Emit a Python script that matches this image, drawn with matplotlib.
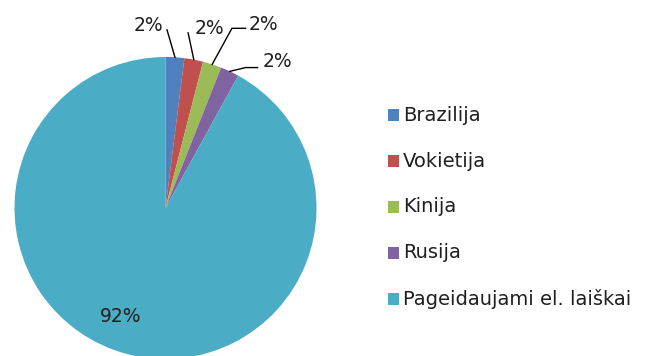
import numpy as np
import matplotlib.pyplot as plt
from matplotlib.patches import Rectangle

plt.rcParams['font.family'] = ['DejaVu Sans']

categories = ['Brazilija', 'Vokietija', 'Kinija', 'Rusija', 'Pageidaujami el. laiškai']
shares = [2, 2, 2, 2, 92]
colors = ['#4F81BD', '#C0504D', '#9BBB59', '#8064A2', '#4BACC6']

# where each percentage label sits (pie radius units) and how its leader line bends
label_pos = [(-0.11, 1.21), (0.29, 1.19), (0.55, 1.215), (0.645, 0.97), (-0.30, -0.72)]
label_ha = ['center', 'center', 'left', 'left', 'center']
leader_mid = [(0.01, 1.18), (0.15, 1.16), (0.44, 1.19), (0.53, 0.93), None]
leader_end = [None, None, (0.53, 1.19), (0.61, 0.93), None]

W, H = 657, 356
fig = plt.figure(figsize=(W / 100, H / 100), dpi=100)


def px(x, y):
    return x / W, 1 - y / H


cx, cy, r = 165.5, 208, 151
ax = fig.add_axes([(cx - r) / W, (H - cy - r) / H, 2 * r / W, 2 * r / H])

wedges, _ = ax.pie(shares, colors=colors, startangle=90, counterclock=False,
                   radius=1, wedgeprops=dict(linewidth=0))
ax.set_xlim(-1, 1)
ax.set_ylim(-1, 1)
ax.axis('off')

for i, (w, v) in enumerate(zip(wedges, shares)):
    lx, ly = label_pos[i]
    ax.text(lx, ly, f'{v}%', ha=label_ha[i], va='center', fontsize=13.5,
            color='#1f1f1f', clip_on=False)
    if leader_mid[i] is None:
        continue
    ang = np.deg2rad((w.theta1 + w.theta2) / 2)
    xs = [np.cos(ang), leader_mid[i][0]]
    ys = [np.sin(ang), leader_mid[i][1]]
    if leader_end[i] is not None:
        xs.append(leader_end[i][0])
        ys.append(leader_end[i][1])
    ax.plot(xs, ys, color='black', lw=1, clip_on=False)

# legend
for i, (cat, col) in enumerate(zip(categories, colors)):
    yc = 115 + 46 * i
    x0, y0 = px(388, yc + 6)
    fig.add_artist(Rectangle((x0, y0), 11 / W, 12 / H, transform=fig.transFigure,
                             facecolor=col, edgecolor='none'))
    tx, ty = px(403, yc)
    fig.text(tx, ty, cat, ha='left', va='center', fontsize=14, color='#1f1f1f')

fig.savefig('out.png', dpi=100, facecolor='white')
